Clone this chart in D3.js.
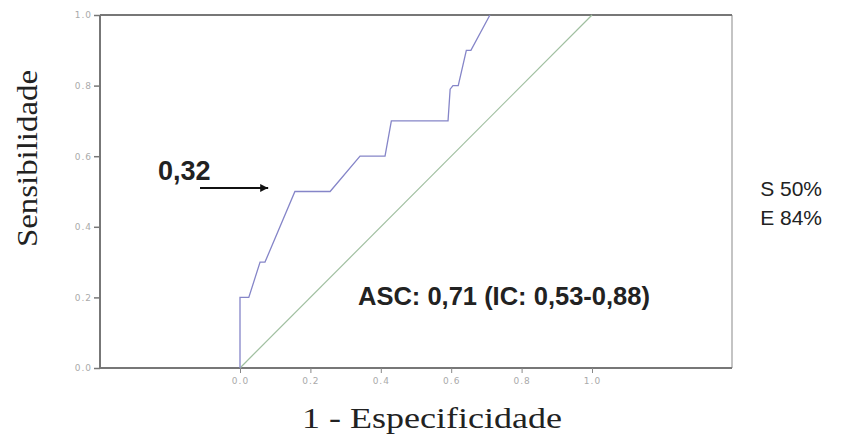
<!DOCTYPE html>
<html><head><meta charset="utf-8">
<script src="https://cdn.jsdelivr.net/npm/d3@7"></script>
<style>
html,body{margin:0;padding:0;background:#fff;}
svg{display:block;}
</style></head>
<body>
<svg id="chart" width="846" height="439"></svg>
<script>
// ---- data ----
const rocFPR = [0, 0, 0.025, 0.057, 0.071, 0.156, 0.256, 0.341, 0.412, 0.430, 0.591, 0.597, 0.605, 0.620, 0.643, 0.656, 0.710];
const rocTPR = [0, 0.2, 0.2, 0.3, 0.3, 0.5, 0.5, 0.6, 0.6, 0.7, 0.7, 0.79, 0.8, 0.8, 0.9, 0.9, 1.0];
const refFPR = [0, 1];
const refTPR = [0, 1];
const xTicks = [0, 0.2, 0.4, 0.6, 0.8, 1.0];
const yTicks = [0, 0.2, 0.4, 0.6, 0.8, 1.0];
const cutoffLabel = "0,32";
const aucLabel = "ASC: 0,71 (IC: 0,53-0,88)";
const sideLabels = ["S 50%", "E 84%"];
const xTitle = "1 - Especificidade";
const yTitle = "Sensibilidade";

// ---- layout ----
const svg = d3.select("#chart");
const x = d3.scaleLinear().domain([0, 1]).range([240, 592]);
const y = d3.scaleLinear().domain([0, 1]).range([368, 15]);
const box = {left: 100, right: 732, top: 15, bottom: 368};

// plot frame
svg.append("line").attr("x1", box.right).attr("x2", box.right).attr("y1", box.top).attr("y2", box.bottom)
  .attr("stroke", "#b0b0b0").attr("stroke-width", 1.5);
svg.append("line").attr("x1", box.left).attr("x2", box.right).attr("y1", box.top).attr("y2", box.top)
  .attr("stroke", "#777").attr("stroke-width", 2);

// axes
const yAxis = d3.axisLeft(y).tickValues(yTicks).tickSize(6).tickPadding(2).tickFormat(d3.format(".1f"));
const gy = svg.append("g").attr("transform", `translate(${box.left},0)`).call(yAxis);
gy.select(".domain").attr("stroke", "#777").attr("stroke-width", 2).attr("d", `M0,${box.top}V${box.bottom}`);
gy.selectAll(".tick line").attr("stroke", "#777").attr("stroke-width", 1.5);
gy.selectAll(".tick text").attr("fill", "#aaa").attr("font-size", 9).attr("font-family", "DejaVu Sans").attr("letter-spacing", 1);

const xAxis = d3.axisBottom(x).tickValues(xTicks).tickSize(5).tickPadding(5).tickFormat(d3.format(".1f"));
const gx = svg.append("g").attr("transform", `translate(0,${box.bottom})`).call(xAxis);
gx.select(".domain").attr("stroke", "#777").attr("stroke-width", 2).attr("d", `M${box.left},0H${box.right}`);
gx.selectAll(".tick line").attr("stroke", "#888").attr("stroke-width", 1);
gx.selectAll(".tick text").attr("fill", "#aaa").attr("font-size", 9).attr("font-family", "DejaVu Sans").attr("letter-spacing", 1);

// reference diagonal
const line = d3.line().x(d => x(d[0])).y(d => y(d[1]));
svg.append("path").datum(d3.zip(refFPR, refTPR)).attr("d", line)
  .attr("fill", "none").attr("stroke", "#a0bfa0").attr("stroke-width", 1.2);

// ROC curve
svg.append("path").datum(d3.zip(rocFPR, rocTPR)).attr("d", line)
  .attr("fill", "none").attr("stroke", "#8585c8").attr("stroke-width", 1.3);

// annotations
svg.append("defs").append("marker").attr("id", "ah").attr("viewBox", "0 0 10 10")
  .attr("refX", 10).attr("refY", 5).attr("markerWidth", 4).attr("markerHeight", 4)
  .attr("orient", "auto").append("path").attr("d", "M0,0L10,5L0,10z").attr("fill", "#111");
svg.append("line").attr("x1", 200).attr("x2", x(0.08)).attr("y1", y(0.51)).attr("y2", y(0.51))
  .attr("stroke", "#111").attr("stroke-width", 2).attr("marker-end", "url(#ah)");
svg.append("text").attr("x", 158).attr("y", 180).text(cutoffLabel)
  .attr("font-family", "Liberation Sans, Arial").attr("font-weight", "bold").attr("font-size", 27).attr("fill", "#222");
svg.append("text").attr("x", 358).attr("y", 305).text(aucLabel)
  .attr("font-family", "Liberation Sans, Arial").attr("font-weight", "bold").attr("font-size", 25.5).attr("fill", "#222");
svg.selectAll("text.side").data(sideLabels).enter().append("text").attr("class", "side")
  .attr("x", 822).attr("y", (d, i) => 196 + i * 29).attr("text-anchor", "end").text(d => d)
  .attr("font-family", "Liberation Sans, Arial").attr("font-size", 21).attr("fill", "#222");

// titles
svg.append("text").attr("x", 302).attr("y", 428).text(xTitle)
  .attr("textLength", 260).attr("lengthAdjust", "spacingAndGlyphs")
  .attr("font-family", "Liberation Serif, Times New Roman").attr("font-size", 30).attr("fill", "#222");
svg.append("text").attr("transform", "translate(37,247) rotate(-90)").text(yTitle)
  .attr("textLength", 177).attr("lengthAdjust", "spacingAndGlyphs")
  .attr("font-family", "Liberation Serif, Times New Roman").attr("font-size", 30).attr("fill", "#222");
</script>
</body></html>
